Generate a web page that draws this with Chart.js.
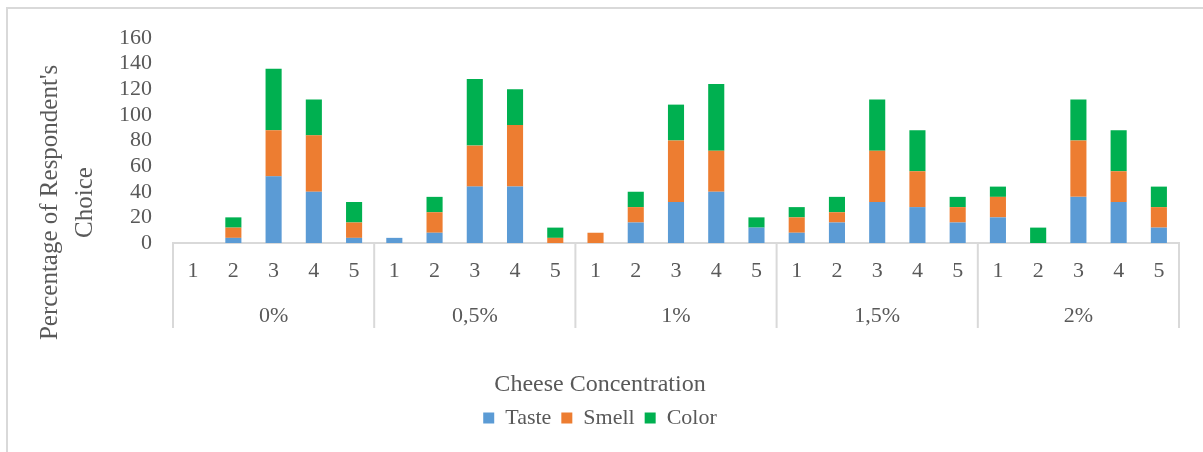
<!DOCTYPE html>
<html>
<head>
<meta charset="utf-8">
<script src="https://cdn.jsdelivr.net/npm/chart.js@4.4.1/dist/chart.umd.min.js"></script>
<style>
  body { margin: 0; background: #fff; }
  #caixa { position: relative; width: 1203px; height: 452px; }
  #moldura { position: absolute; left: 6px; top: 7px; right: 0; bottom: 0; border-left: 2px solid #d9d9d9; border-top: 2px solid #d9d9d9; }
  canvas { position: absolute; left: 0; top: 0; }
</style>
</head>
<body>
<div id="caixa"><div id="moldura"></div><canvas id="graficoQueijo" width="1203" height="452"></canvas></div>
<script>
const concentracoes = ['0%', '0,5%', '1%', '1,5%', '2%'];
const notas = ['1', '2', '3', '4', '5'];

// valores por concentracao, notas 1..5
const sabor  = [0, 4, 52, 40, 4,   4, 8, 44, 44, 0,   0, 16, 32, 40, 12,   8, 16, 32, 28, 16,   20, 0, 36, 32, 12];
const cheiro = [0, 8, 36, 44, 12,  0, 16, 32, 48, 4,  8, 12, 48, 32, 0,    12, 8, 40, 28, 12,   16, 0, 44, 24, 16];
const cor    = [0, 8, 48, 28, 16,  0, 12, 52, 28, 8,  0, 12, 28, 52, 8,    8, 12, 40, 32, 8,    8, 12, 32, 32, 16];

const eixoY = { min: 0, max: 160, passo: 20 };

const cinza = '#595959';
const fonte = '"Liberation Serif", "Times New Roman", serif';

// rotulo de duas linhas: a nota e, na nota do meio, a concentracao
const rotulos = [];
concentracoes.forEach(c => {
    notas.forEach((n, i) => rotulos.push(i === 2 ? [n, c] : n));
});

const divisorias = {
    id: 'divisorias',
    afterDraw(chart) {
        const x = chart.scales.x;
        const ctx = chart.ctx;
        const largura = x.width / concentracoes.length;
        ctx.save();
        ctx.strokeStyle = '#d9d9d9';
        ctx.lineWidth = 2;
        for (let g = 0; g <= concentracoes.length; g++) {
            const px = x.left + largura * g;
            ctx.beginPath();
            ctx.moveTo(px, x.top);
            ctx.lineTo(px, x.top + 85);
            ctx.stroke();
        }
        ctx.restore();
    }
};

const tituloY = {
    id: 'tituloY',
    afterDraw(chart) {
        const ctx = chart.ctx;
        const area = chart.chartArea;
        ctx.save();
        ctx.translate(area.left - 123, (area.top + area.bottom) / 2 + 62);
        ctx.rotate(-Math.PI / 2);
        ctx.font = '25px ' + fonte;
        ctx.fillStyle = cinza;
        ctx.textAlign = 'center';
        ctx.textBaseline = 'middle';
        ctx.fillText("Percentage of Respondent's", 0, 0);
        ctx.fillText('Choice', 0, 35);
        ctx.restore();
    }
};

const $grafico = document.getElementById('graficoQueijo');

new Chart($grafico, {
    type: 'bar',
    data: {
        labels: rotulos,
        datasets: [
            { label: 'Taste', data: sabor, backgroundColor: '#5B9BD5' },
            { label: 'Smell', data: cheiro, backgroundColor: '#ED7D31' },
            { label: 'Color', data: cor, backgroundColor: '#00B050' }
        ]
    },
    options: {
        responsive: false,
        animation: false,
        datasets: {
            bar: { categoryPercentage: 1, barPercentage: 0.4 }
        },
        layout: {
            padding: { left: 21, right: 24, top: 38, bottom: 13 }
        },
        scales: {
            x: {
                stacked: true,
                grid: { display: false, drawTicks: false },
                border: { display: true, color: '#d9d9d9', width: 2 },
                ticks: {
                    color: cinza,
                    padding: 6.5,
                    maxRotation: 0,
                    autoSkip: false,
                    font: { family: fonte, size: 22, lineHeight: 2.014 }
                }
            },
            y: {
                stacked: true,
                min: eixoY.min,
                max: eixoY.max,
                grid: { display: false, drawTicks: false },
                border: { display: false },
                ticks: {
                    stepSize: eixoY.passo,
                    autoSkip: false,
                    color: cinza,
                    padding: 21,
                    font: { family: fonte, size: 22 }
                },
                afterFit(escala) { escala.width = 152; }
            }
        },
        plugins: {
            legend: {
                position: 'bottom',
                labels: {
                    color: cinza,
                    boxWidth: 11,
                    boxHeight: 11,
                    padding: 10,
                    font: { family: fonte, size: 22, lineHeight: 1 }
                }
            },
            subtitle: {
                display: true,
                text: 'Cheese Concentration',
                position: 'bottom',
                weight: 500,
                color: cinza,
                padding: { top: 28.4, bottom: 0 },
                font: { family: fonte, size: 24, weight: 'normal', lineHeight: 1 }
            },
            tooltip: { enabled: false }
        }
    },
    plugins: [divisorias, tituloY]
});
</script>
</body>
</html>
